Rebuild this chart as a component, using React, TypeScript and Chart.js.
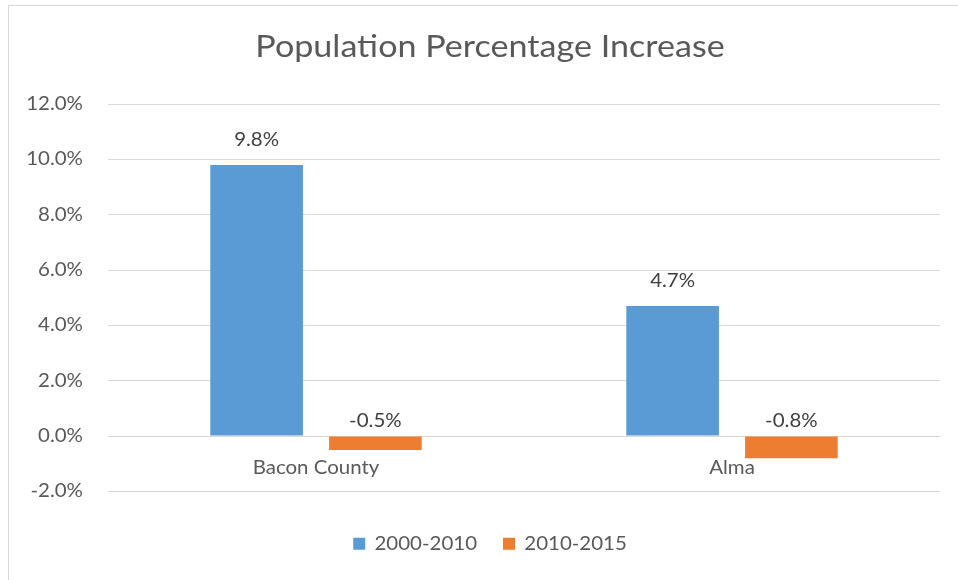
import React, { useEffect, useRef } from "react";
import { Chart, registerables } from "chart.js";

Chart.register(...registerables);

const categories = ["Bacon County", "Alma"];
const seriesNames = ["2000-2010", "2010-2015"];
const series2000_2010 = [9.8, 4.7];
const series2010_2015 = [-0.5, -0.8];
const yTicks = { min: -2, max: 12, step: 2 };
const titleText = "Population Percentage Increase";

const FONT = "Lato, 'Noto Sans', sans-serif";
const AXIS_COLOR = "#595959";
const LABEL_COLOR = "#404040";
const GRID_COLOR = "#D9D9D9";
const TEXT_STRETCH = 1.1;
const TEXT_SIZE = 18.6;

const frame = {
  id: "frame",
  beforeDraw(chart: any) {
    const { ctx, width, height } = chart;
    ctx.save();
    ctx.fillStyle = "#ffffff";
    ctx.fillRect(0, 0, width, height);
    ctx.strokeStyle = GRID_COLOR;
    ctx.lineWidth = 1;
    ctx.strokeRect(0.5, 0.5, width - 1, height - 1);
    ctx.restore();
  },
};

const valueLabels = {
  id: "valueLabels",
  afterDatasetsDraw(chart: any) {
    const { ctx } = chart;
    ctx.save();
    ctx.font = `${TEXT_SIZE}px ${FONT}`;
    ctx.fillStyle = LABEL_COLOR;
    ctx.textAlign = "center";
    ctx.textBaseline = "middle";
    chart.data.datasets.forEach((ds: any, i: number) => {
      const meta = chart.getDatasetMeta(i);
      meta.data.forEach((bar: any, j: number) => {
        const v = ds.data[j];
        const y = v >= 0 ? bar.y - 25 : bar.base - 16;
        ctx.fillText(v.toFixed(1) + "%", bar.x, y);
      });
    });
    ctx.restore();
  },
};

function stretchText(ctx: any, sx: number) {
  if (ctx.__stretched) return;
  ctx.__stretched = true;
  const origFill = ctx.fillText.bind(ctx);
  const origMeasure = ctx.measureText.bind(ctx);
  ctx.fillText = (text: string, x: number, y: number, maxWidth?: number) => {
    ctx.save();
    ctx.translate(x, y);
    ctx.scale(sx, 1);
    if (maxWidth != null) origFill(text, 0, 0, maxWidth / sx);
    else origFill(text, 0, 0);
    ctx.restore();
  };
  ctx.measureText = (text: string) => {
    const m = origMeasure(text);
    return {
      width: m.width * sx,
      actualBoundingBoxAscent: m.actualBoundingBoxAscent,
      actualBoundingBoxDescent: m.actualBoundingBoxDescent,
      actualBoundingBoxLeft: m.actualBoundingBoxLeft * sx,
      actualBoundingBoxRight: m.actualBoundingBoxRight * sx,
      fontBoundingBoxAscent: m.fontBoundingBoxAscent,
      fontBoundingBoxDescent: m.fontBoundingBoxDescent,
    };
  };
}

export default function App() {
  const ref = useRef<HTMLCanvasElement | null>(null);

  useEffect(() => {
    if (!ref.current) return;
    const ctx2d = ref.current.getContext("2d");
    stretchText(ctx2d, TEXT_STRETCH);
    const chart = new Chart(ref.current, {
      type: "bar",
      data: {
        labels: categories,
        datasets: [
          {
            label: seriesNames[0],
            data: series2000_2010,
            backgroundColor: "#5B9BD5",
            categoryPercentage: 0.571,
            barPercentage: 0.78,
          },
          {
            label: seriesNames[1],
            data: series2010_2015,
            backgroundColor: "#ED7D31",
            categoryPercentage: 0.571,
            barPercentage: 0.78,
          },
        ],
      },
      options: {
        animation: false,
        responsive: false,
        maintainAspectRatio: false,
        devicePixelRatio: 1,
        layout: { padding: { left: 0, right: 0, top: 0, bottom: 42 } },
        plugins: {
          tooltip: { enabled: false },
          title: {
            display: true,
            text: titleText,
            color: AXIS_COLOR,
            font: { family: FONT, size: 31, weight: "normal", lineHeight: 1.2 },
            padding: { top: 23.4, bottom: 38.4 },
          },
          legend: {
            display: true,
            position: "bottom",
            labels: {
              color: AXIS_COLOR,
              font: { family: FONT, size: TEXT_SIZE },
              boxWidth: 12,
              boxHeight: 12,
              padding: 26,
            },
          },
        },
        scales: {
          y: {
            position: "left",
            min: yTicks.min,
            max: yTicks.max,
            ticks: {
              stepSize: yTicks.step,
              color: AXIS_COLOR,
              font: { family: FONT, size: TEXT_SIZE },
              padding: 25,
              callback: (v: any) => Number(v).toFixed(1) + "%",
            },
            grid: { color: GRID_COLOR, drawTicks: false },
            border: { display: false },
            afterFit: (s: any) => {
              s.width = 100;
            },
          },
          yRight: {
            position: "right",
            display: true,
            grid: { display: false, drawTicks: false },
            border: { display: false },
            ticks: { display: false },
            afterFit: (s: any) => {
              s.width = 32;
            },
          },
          x: {
            type: "category",
            position: { y: 0 } as any,
            grid: { display: false, drawTicks: false },
            border: { display: true, color: GRID_COLOR },
            ticks: {
              color: AXIS_COLOR,
              font: { family: FONT, size: TEXT_SIZE },
              padding: 21,
            },
          },
          xBottom: {
            type: "category",
            position: "bottom",
            display: true,
            grid: { display: false, drawTicks: false },
            border: { display: false },
            ticks: { display: false },
            afterFit: (s: any) => {
              s.height = 17;
            },
          },
        },
      },
      plugins: [frame, valueLabels],
    } as any);
    return () => chart.destroy();
  }, []);

  return (
    <div
      style={{
        position: "absolute",
        left: 0,
        top: 0,
        width: 958,
        height: 580,
        overflow: "hidden",
        background: "#fff",
      }}
    >
      <canvas
        ref={ref}
        width={964}
        height={600}
        style={{ position: "absolute", left: 8, top: 5, width: 964, height: 600 }}
      />
    </div>
  );
}
